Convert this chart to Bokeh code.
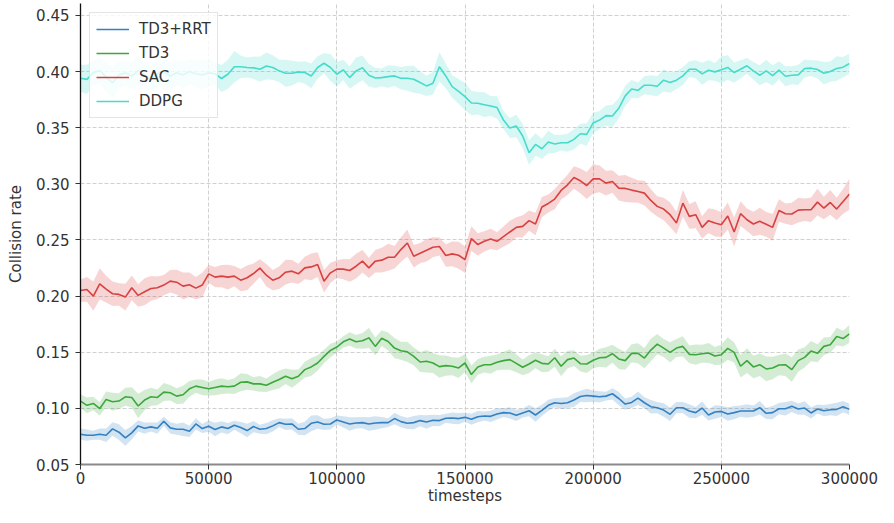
from bokeh.plotting import figure
from bokeh.models import (ColumnDataSource, Range1d, FixedTicker, Legend, LegendItem,
                          NumeralTickFormatter)
from bokeh.embed import file_html
from bokeh.resources import INLINE

steps = list(range(0, 300001, 2500))

td3_rrt = [0.077, 0.0761, 0.0761, 0.077, 0.0761, 0.0817, 0.0788, 0.0737, 0.0782, 0.0844,
           0.0823, 0.0835, 0.0823, 0.0885, 0.0826, 0.0814, 0.0814, 0.0796, 0.0861, 0.082,
           0.0841, 0.0811, 0.0835, 0.082, 0.085, 0.0829, 0.0802, 0.0838, 0.0814, 0.082,
           0.0844, 0.0873, 0.0858, 0.0861, 0.0814, 0.082, 0.0867, 0.0879, 0.0858, 0.0861,
           0.0897, 0.0879, 0.0861, 0.087, 0.0873, 0.0861, 0.087, 0.0873, 0.0873, 0.0909,
           0.0882, 0.0867, 0.0873, 0.0891, 0.0879, 0.0894, 0.0891, 0.0912, 0.0914, 0.0909,
           0.092, 0.0903, 0.0926, 0.0932, 0.0929, 0.095, 0.0962, 0.0959, 0.0938, 0.0959,
           0.0979, 0.0941, 0.0982, 0.1027, 0.105, 0.1044, 0.105, 0.1074, 0.1106, 0.1115,
           0.1109, 0.1103, 0.1109, 0.113, 0.1088, 0.1038, 0.1053, 0.1091, 0.105, 0.1015,
           0.1006, 0.0985, 0.0947, 0.1006, 0.1006, 0.0976, 0.0962, 0.1003, 0.0941, 0.0968,
           0.0973, 0.095, 0.0962, 0.0976, 0.0976, 0.0976, 0.1006, 0.0956, 0.0962, 0.0997,
           0.0997, 0.1018, 0.0994, 0.1003, 0.0959, 0.0994, 0.0979, 0.0988, 0.0991, 0.1015,
           0.0991]
td3_rrt_hw = [0.005, 0.005, 0.004, 0.005, 0.006, 0.006, 0.007, 0.007, 0.006, 0.005,
              0.005, 0.004, 0.005, 0.004, 0.005, 0.005, 0.006, 0.005, 0.005, 0.004,
              0.005, 0.006, 0.005, 0.005, 0.004, 0.005, 0.006, 0.005, 0.004, 0.005,
              0.005, 0.004, 0.005, 0.005, 0.005, 0.006, 0.007, 0.006, 0.005, 0.005,
              0.004, 0.005, 0.006, 0.005, 0.005, 0.006, 0.006, 0.005, 0.004, 0.005,
              0.005, 0.005, 0.006, 0.005, 0.006, 0.005, 0.005, 0.004, 0.005, 0.005,
              0.004, 0.005, 0.005, 0.004, 0.005, 0.005, 0.004, 0.005, 0.005, 0.004,
              0.005, 0.006, 0.005, 0.005, 0.004, 0.005, 0.005, 0.006, 0.005, 0.006,
              0.005, 0.005, 0.004, 0.005, 0.006, 0.005, 0.005, 0.006, 0.005, 0.006,
              0.005, 0.006, 0.006, 0.005, 0.005, 0.006, 0.005, 0.006, 0.005, 0.006,
              0.005, 0.006, 0.006, 0.005, 0.006, 0.005, 0.006, 0.005, 0.006, 0.005,
              0.006, 0.005, 0.005, 0.006, 0.005, 0.004, 0.005, 0.005, 0.006, 0.005,
              0.005]

td3 = [0.1065, 0.1027, 0.1044, 0.0997, 0.108, 0.1059, 0.1065, 0.1103, 0.1097, 0.1021,
       0.1074, 0.1103, 0.1097, 0.1145, 0.1139, 0.1109, 0.1121, 0.1174, 0.1198, 0.1186,
       0.1174, 0.1186, 0.1198, 0.1192, 0.1198, 0.1233, 0.1236, 0.1218, 0.1218, 0.1206,
       0.1233, 0.1257, 0.1286, 0.1263, 0.1286, 0.1345, 0.1369, 0.1404, 0.1463, 0.1516,
       0.1546, 0.1593, 0.1617, 0.1593, 0.1602, 0.1628, 0.1552, 0.1625, 0.1596, 0.1537,
       0.1513, 0.1504, 0.1463, 0.1413, 0.1419, 0.1404, 0.1372, 0.1381, 0.1375, 0.136,
       0.1404, 0.1301, 0.1369, 0.1389, 0.1389, 0.141, 0.1425, 0.1434, 0.1401, 0.1366,
       0.1395, 0.1428, 0.1401, 0.1395, 0.1451, 0.1375, 0.1434, 0.1448, 0.1398, 0.1395,
       0.1428, 0.1451, 0.1454, 0.1487, 0.144, 0.1425, 0.149, 0.149, 0.1448, 0.1519,
       0.1572, 0.1537, 0.1499, 0.1537, 0.1552, 0.1481, 0.1478, 0.1487, 0.1493, 0.1466,
       0.1478, 0.1534, 0.1499, 0.1375, 0.1425, 0.1369, 0.1389, 0.1351, 0.136, 0.1386,
       0.1389, 0.1345, 0.1425, 0.1454, 0.151, 0.149, 0.1552, 0.1566, 0.164, 0.1622,
       0.1664]
td3_hw = [0.006, 0.007, 0.006, 0.006, 0.007, 0.008, 0.007, 0.008, 0.009, 0.011,
          0.009, 0.008, 0.007, 0.008, 0.007, 0.007, 0.008, 0.007, 0.006, 0.007,
          0.006, 0.007, 0.007, 0.006, 0.007, 0.008, 0.007, 0.006, 0.007, 0.006,
          0.007, 0.008, 0.007, 0.008, 0.006, 0.007, 0.008, 0.007, 0.006, 0.006,
          0.005, 0.005, 0.006, 0.006, 0.007, 0.009, 0.008, 0.007, 0.008, 0.009,
          0.008, 0.009, 0.008, 0.009, 0.010, 0.009, 0.010, 0.009, 0.008, 0.009,
          0.008, 0.008, 0.007, 0.007, 0.008, 0.007, 0.008, 0.009, 0.008, 0.007,
          0.008, 0.007, 0.008, 0.007, 0.008, 0.009, 0.008, 0.007, 0.007, 0.008,
          0.007, 0.008, 0.009, 0.008, 0.009, 0.008, 0.008, 0.009, 0.009, 0.010,
          0.009, 0.008, 0.009, 0.008, 0.009, 0.008, 0.009, 0.008, 0.009, 0.008,
          0.009, 0.010, 0.009, 0.010, 0.011, 0.010, 0.010, 0.011, 0.010, 0.009,
          0.010, 0.011, 0.010, 0.009, 0.009, 0.008, 0.008, 0.007, 0.008, 0.007,
          0.008]

sac = [0.205, 0.2059, 0.200, 0.2109, 0.2062, 0.2021, 0.2015, 0.1991, 0.2074, 0.2006,
       0.2038, 0.2068, 0.2074, 0.2098, 0.2133, 0.2124, 0.2089, 0.2101, 0.2071, 0.2098,
       0.2198, 0.2169, 0.2178, 0.2169, 0.2178, 0.2142, 0.2163, 0.2201, 0.2249, 0.2186,
       0.2142, 0.2163, 0.2213, 0.2222, 0.2198, 0.2251, 0.226, 0.2281, 0.2133, 0.2207,
       0.224, 0.224, 0.2228, 0.2266, 0.2311, 0.2251, 0.2311, 0.232, 0.2346, 0.2346,
       0.2414, 0.2473, 0.2355, 0.2382, 0.2408, 0.2435, 0.2441, 0.2361, 0.2376, 0.2364,
       0.2325, 0.2512, 0.2459, 0.2488, 0.2509, 0.2488, 0.253, 0.2571, 0.2612, 0.2621,
       0.2672, 0.2642, 0.2793, 0.2825, 0.2864, 0.2941, 0.2991, 0.3056, 0.3027, 0.2985,
       0.3044, 0.3044, 0.3006, 0.3021, 0.2962, 0.2959, 0.2944, 0.2932, 0.2917, 0.2852,
       0.2799, 0.2775, 0.2725, 0.2651, 0.2828, 0.271, 0.2725, 0.2612, 0.2672, 0.2651,
       0.2636, 0.2713, 0.2571, 0.2734, 0.268, 0.2642, 0.2666, 0.2639, 0.2612, 0.2763,
       0.2734, 0.2731, 0.2766, 0.2769, 0.2769, 0.2837, 0.2784, 0.2834, 0.2775, 0.2843,
       0.2908]
sac_hw = [0.010, 0.011, 0.013, 0.014, 0.012, 0.011, 0.010, 0.012, 0.011, 0.010,
          0.012, 0.011, 0.010, 0.009, 0.010, 0.011, 0.012, 0.011, 0.010, 0.011,
          0.008, 0.009, 0.010, 0.011, 0.009, 0.010, 0.011, 0.009, 0.008, 0.010,
          0.009, 0.010, 0.011, 0.010, 0.009, 0.010, 0.012, 0.011, 0.010, 0.009,
          0.008, 0.009, 0.010, 0.011, 0.010, 0.009, 0.010, 0.011, 0.012, 0.010,
          0.011, 0.012, 0.010, 0.009, 0.010, 0.009, 0.008, 0.010, 0.011, 0.012,
          0.012, 0.011, 0.010, 0.009, 0.009, 0.008, 0.009, 0.010, 0.009, 0.010,
          0.009, 0.010, 0.009, 0.008, 0.009, 0.008, 0.009, 0.010, 0.011, 0.012,
          0.013, 0.012, 0.011, 0.010, 0.011, 0.012, 0.011, 0.010, 0.011, 0.010,
          0.009, 0.010, 0.011, 0.010, 0.012, 0.011, 0.012, 0.010, 0.011, 0.012,
          0.011, 0.012, 0.013, 0.011, 0.010, 0.011, 0.012, 0.011, 0.012, 0.010,
          0.009, 0.010, 0.011, 0.010, 0.011, 0.012, 0.010, 0.011, 0.010, 0.011,
          0.014]

ddpg = [0.394, 0.393, 0.399, 0.401, 0.395, 0.390, 0.397, 0.399, 0.396, 0.401,
        0.397, 0.393, 0.398, 0.400, 0.396, 0.399, 0.397, 0.400, 0.398, 0.397,
        0.399, 0.398, 0.3938, 0.3976, 0.4042, 0.4042, 0.4036, 0.4033, 0.4021, 0.405,
        0.4036, 0.4006, 0.3985, 0.3985, 0.3997, 0.3991, 0.3961, 0.4036, 0.4074, 0.4036,
        0.3976, 0.4015, 0.3946, 0.4006, 0.4033, 0.3967, 0.3943, 0.3946, 0.3955, 0.3961,
        0.394, 0.394, 0.3932, 0.3902, 0.3872, 0.3896, 0.4042, 0.3961, 0.3866, 0.3824,
        0.3777, 0.372, 0.3717, 0.3705, 0.3693, 0.3679, 0.3568, 0.3497, 0.3515, 0.3426,
        0.3277, 0.3351, 0.3312, 0.3372, 0.3354, 0.3366, 0.3366, 0.3396, 0.3446, 0.344,
        0.3542, 0.3568, 0.3607, 0.3604, 0.3673, 0.3783, 0.3845, 0.3833, 0.3878, 0.3878,
        0.3869, 0.3923, 0.3902, 0.3923, 0.3961, 0.4021, 0.4021, 0.3979, 0.4012, 0.3997,
        0.4015, 0.4036, 0.3991, 0.4021, 0.4051, 0.4006, 0.3967, 0.4006, 0.3964, 0.4012,
        0.3958, 0.3967, 0.397, 0.4027, 0.403, 0.4018, 0.3985, 0.400, 0.4027, 0.4039,
        0.4071]
ddpg_hw = [0.012, 0.013, 0.011, 0.012, 0.013, 0.014, 0.012, 0.011, 0.012, 0.013,
           0.012, 0.011, 0.012, 0.013, 0.012, 0.011, 0.012, 0.011, 0.012, 0.013,
           0.012, 0.010, 0.012, 0.013, 0.014, 0.010, 0.009, 0.010, 0.011, 0.012,
           0.011, 0.010, 0.012, 0.011, 0.009, 0.010, 0.011, 0.010, 0.009, 0.012,
           0.011, 0.009, 0.010, 0.012, 0.011, 0.010, 0.009, 0.008, 0.010, 0.009,
           0.010, 0.011, 0.012, 0.010, 0.009, 0.010, 0.013, 0.011, 0.010, 0.011,
           0.012, 0.011, 0.010, 0.011, 0.009, 0.010, 0.008, 0.009, 0.010, 0.011,
           0.011, 0.010, 0.009, 0.010, 0.008, 0.007, 0.008, 0.009, 0.009, 0.010,
           0.009, 0.008, 0.009, 0.010, 0.009, 0.009, 0.008, 0.007, 0.008, 0.009,
           0.009, 0.010, 0.009, 0.008, 0.008, 0.007, 0.008, 0.010, 0.009, 0.008,
           0.012, 0.011, 0.009, 0.008, 0.007, 0.008, 0.009, 0.010, 0.009, 0.008,
           0.009, 0.008, 0.009, 0.008, 0.007, 0.008, 0.010, 0.009, 0.011, 0.009,
           0.009]

labels = ["TD3+RRT", "TD3", "SAC", "DDPG"]
colors = ["#3480c1", "#3ca83c", "#d94141", "#45dccb"]
x_ticks = [0, 50000, 100000, 150000, 200000, 250000, 300000]
y_ticks = [0.05, 0.10, 0.15, 0.20, 0.25, 0.30, 0.35, 0.40, 0.45]

FONT = "DejaVu Sans"
TXT = "#333333"

p = figure(width=878, height=507, output_backend="svg", toolbar_location=None,
           x_range=Range1d(0, 300000), y_range=Range1d(0.05, 0.4606),
           min_border_left=80, min_border_right=29, min_border_top=3, min_border_bottom=42)
p.outline_line_color = None

series = [(td3_rrt, td3_rrt_hw), (td3, td3_hw), (sac, sac_hw), (ddpg, ddpg_hw)]
items = []
for (vals, hw), lab, col in zip(series, labels, colors):
    src = ColumnDataSource(dict(x=steps, y=vals,
                                lo=[v - h for v, h in zip(vals, hw)],
                                hi=[v + h for v, h in zip(vals, hw)]))
    p.varea(x="x", y1="lo", y2="hi", source=src, fill_color=col, fill_alpha=0.22)
    r = p.line(x="x", y="y", source=src, line_color=col, line_width=1.6)
    items.append(LegendItem(label=lab, renderers=[r]))

legend = Legend(items=items, location="top_left")
legend.margin = 9
legend.padding = 6
legend.spacing = 4
legend.label_height = 20
legend.glyph_height = 20
legend.glyph_width = 33
legend.label_standoff = 10
legend.label_text_font = FONT
legend.label_text_font_size = "15px"
legend.label_text_color = TXT
legend.border_line_color = "#cccccc"
legend.border_line_width = 1
legend.background_fill_alpha = 0.8
p.add_layout(legend)

p.xaxis.ticker = FixedTicker(ticks=x_ticks)
p.yaxis.ticker = FixedTicker(ticks=y_ticks)
p.xaxis.formatter = NumeralTickFormatter(format="0")
p.yaxis.formatter = NumeralTickFormatter(format="0.00")
p.xaxis.axis_label = "timesteps"
p.yaxis.axis_label = "Collision rate"

for ax in (p.xaxis[0], p.yaxis[0]):
    ax.major_label_text_font = FONT
    ax.major_label_text_font_size = "15px"
    ax.major_label_text_color = TXT
    ax.axis_label_text_font = FONT
    ax.axis_label_text_font_size = "15px"
    ax.axis_label_text_font_style = "normal"
    ax.axis_label_text_color = TXT
    ax.minor_tick_line_color = None
    ax.major_tick_in = 0
    ax.major_tick_out = 5

p.yaxis.major_label_standoff = 6
p.yaxis.axis_label_standoff = 8
p.xaxis.major_label_standoff = 2
p.xaxis.axis_label_standoff = 0

p.yaxis.axis_line_color = "#111111"
p.yaxis.axis_line_width = 1.3
p.yaxis.major_tick_line_color = "#333333"
p.xaxis.axis_line_color = "#8a8a8a"
p.xaxis.axis_line_width = 2
p.xaxis.major_tick_line_color = "#333333"

p.xgrid.grid_line_dash = "4 2"
p.ygrid.grid_line_dash = "4 2"
p.xgrid.grid_line_color = "#d0d0d0"
p.ygrid.grid_line_color = "#d0d0d0"

open("out.html", "w").write(file_html(p, INLINE))
